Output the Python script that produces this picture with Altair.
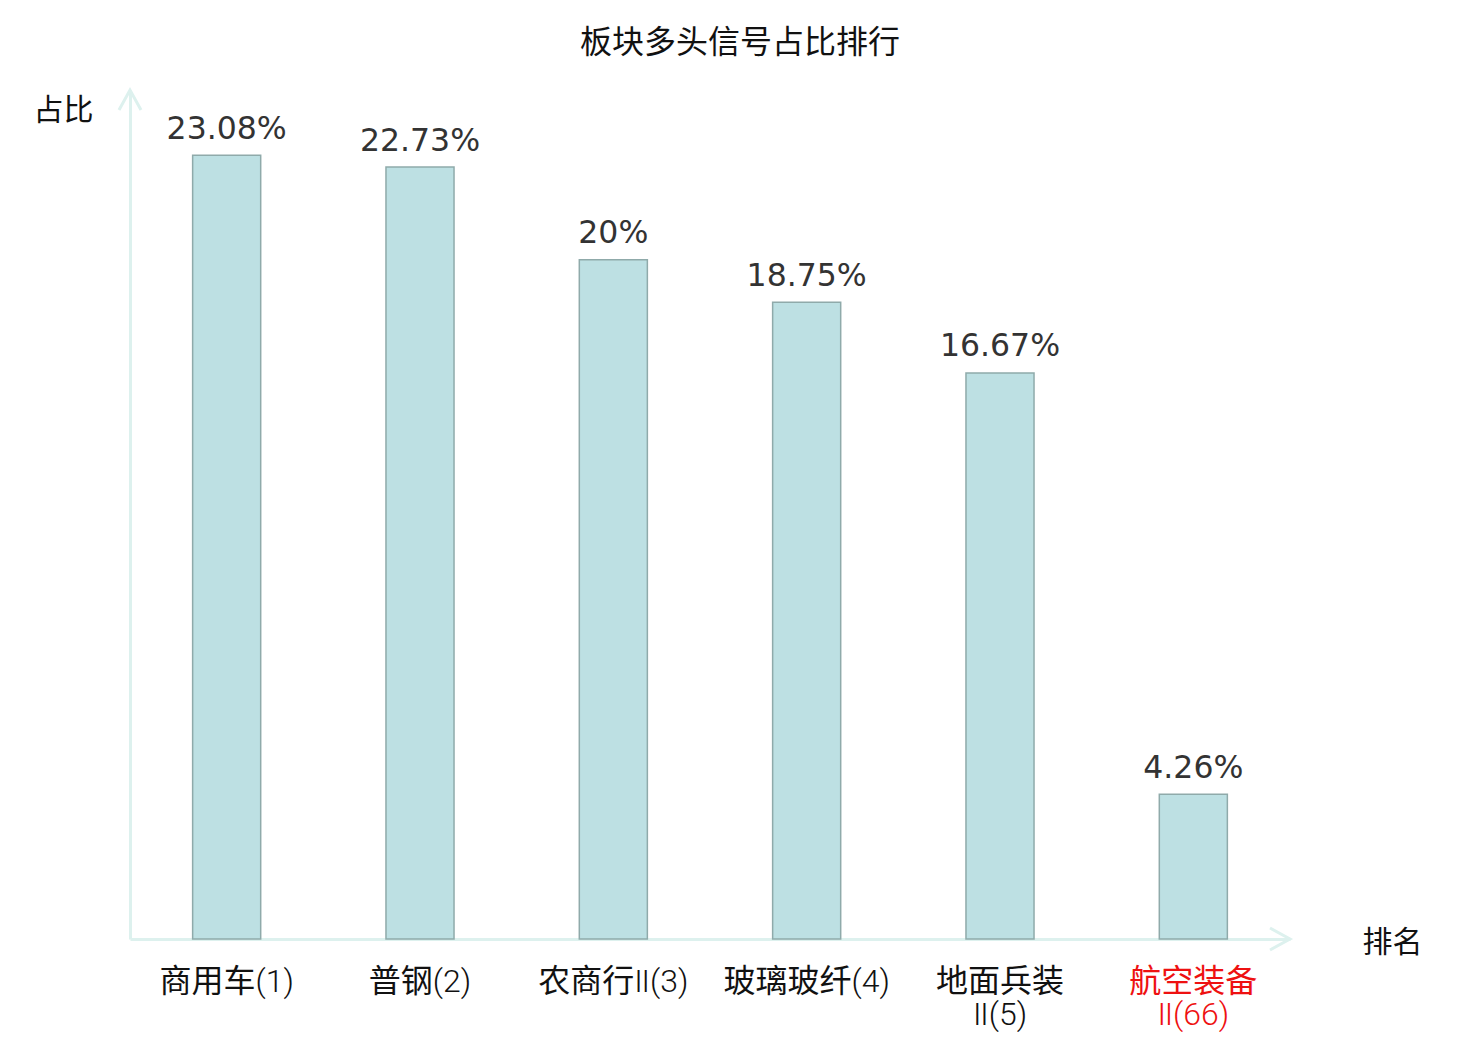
import altair as alt
import pandas as pd

categories = ["商用车(1)", "普钢(2)", "农商行Ⅱ(3)", "玻璃玻纤(4)", "地面兵装|Ⅱ(5)", "航空装备|Ⅱ(66)"]
values = [23.08, 22.73, 20, 18.75, 16.67, 4.26]
highlight = "航空装备|Ⅱ(66)"

df = pd.DataFrame({"cat": categories, "value": values})

AXIS_COLOR = "#DDF1EE"
CJK = "Noto Sans CJK SC"
LABEL_FONT = "'Roboto Light', 'Open Sans Light', 'Lato Light', 'Noto Sans CJK SC'"

x_enc = alt.X(
    "cat:N",
    sort=categories,
    scale=alt.Scale(paddingInner=0.648, paddingOuter=0.324),
    axis=alt.Axis(
        title="排名",
        titleAngle=0,
        titleX=1262,
        titleY=3,
        titleAlign="center",
        titleBaseline="middle",
        titleFont=CJK,
        titleFontSize=30,
        titleFontWeight="normal",
        titleColor="#111",
        labelExpr="split(datum.value, '|')",
        labelFont=LABEL_FONT,
        labelFontSize=32,
        labelFontWeight="normal",
        labelLineHeight=33,
        labelPadding=27,
        labelAngle=0,
        labelColor={"condition": {"test": f"datum.value == '{highlight}'", "value": "#EE1111"}, "value": "#111"},
        ticks=False,
        tickSize=0,
        domainColor=AXIS_COLOR,
        domainWidth=3,
        grid=False,
    ),
)

y_enc = alt.Y(
    "value:Q",
    scale=alt.Scale(domain=[0, 25], nice=False),
    axis=alt.Axis(
        title="占比",
        titleAngle=0,
        titleX=-67,
        titleY=20,
        titleAlign="center",
        titleBaseline="middle",
        titleFont=CJK,
        titleFontSize=30,
        titleFontWeight="normal",
        titleColor="#111",
        labels=False,
        ticks=False,
        grid=False,
        domainColor=AXIS_COLOR,
        domainWidth=3,
    ),
)

base = alt.Chart(df)

bars = base.mark_bar(fill="#BDE0E3", stroke="#8FAAAA", strokeWidth=1.5).encode(x=x_enc, y=y_enc)

labels = base.transform_calculate(txt="datum.value + '%'").mark_text(
    font="DejaVu Sans", fontSize=31.5, color="#333", baseline="alphabetic", dy=-16.5
).encode(x=alt.X("cat:N", sort=categories), y="value:Q", text="txt:N")

up_arrow = alt.Chart(pd.DataFrame({"v": [25]})).mark_point(
    shape="M-0.55,1L0,0L0.55,1", size=1600, filled=False, stroke=AXIS_COLOR, strokeWidth=3, opacity=1
).encode(x=alt.value(0), y=alt.Y("v:Q"))

right_arrow = alt.Chart(pd.DataFrame({"v": [0]})).mark_point(
    shape="M-1,-0.55L0,0L-1,0.55", size=1600, filled=False, stroke=AXIS_COLOR, strokeWidth=3, opacity=1
).encode(x=alt.value({"expr": "width"}), y=alt.Y("v:Q"))

chart = (
    alt.layer(bars, labels, up_arrow, right_arrow)
    .properties(
        width=1160,
        height=849,
        background="white",
        title=alt.TitleParams(
            "板块多头信号占比排行",
            font=CJK,
            fontSize=32,
            fontWeight="normal",
            color="#111",
            anchor="middle",
            dx=30,
            offset=24,
        ),
        autosize=alt.AutoSizeParams(type="none"),
        padding={"left": 122, "top": 82, "right": 182, "bottom": 93},
    )
    .configure_view(strokeWidth=0, stroke="transparent")
)

chart.save("out.html", embed_options={"renderer": "svg", "actions": False})
